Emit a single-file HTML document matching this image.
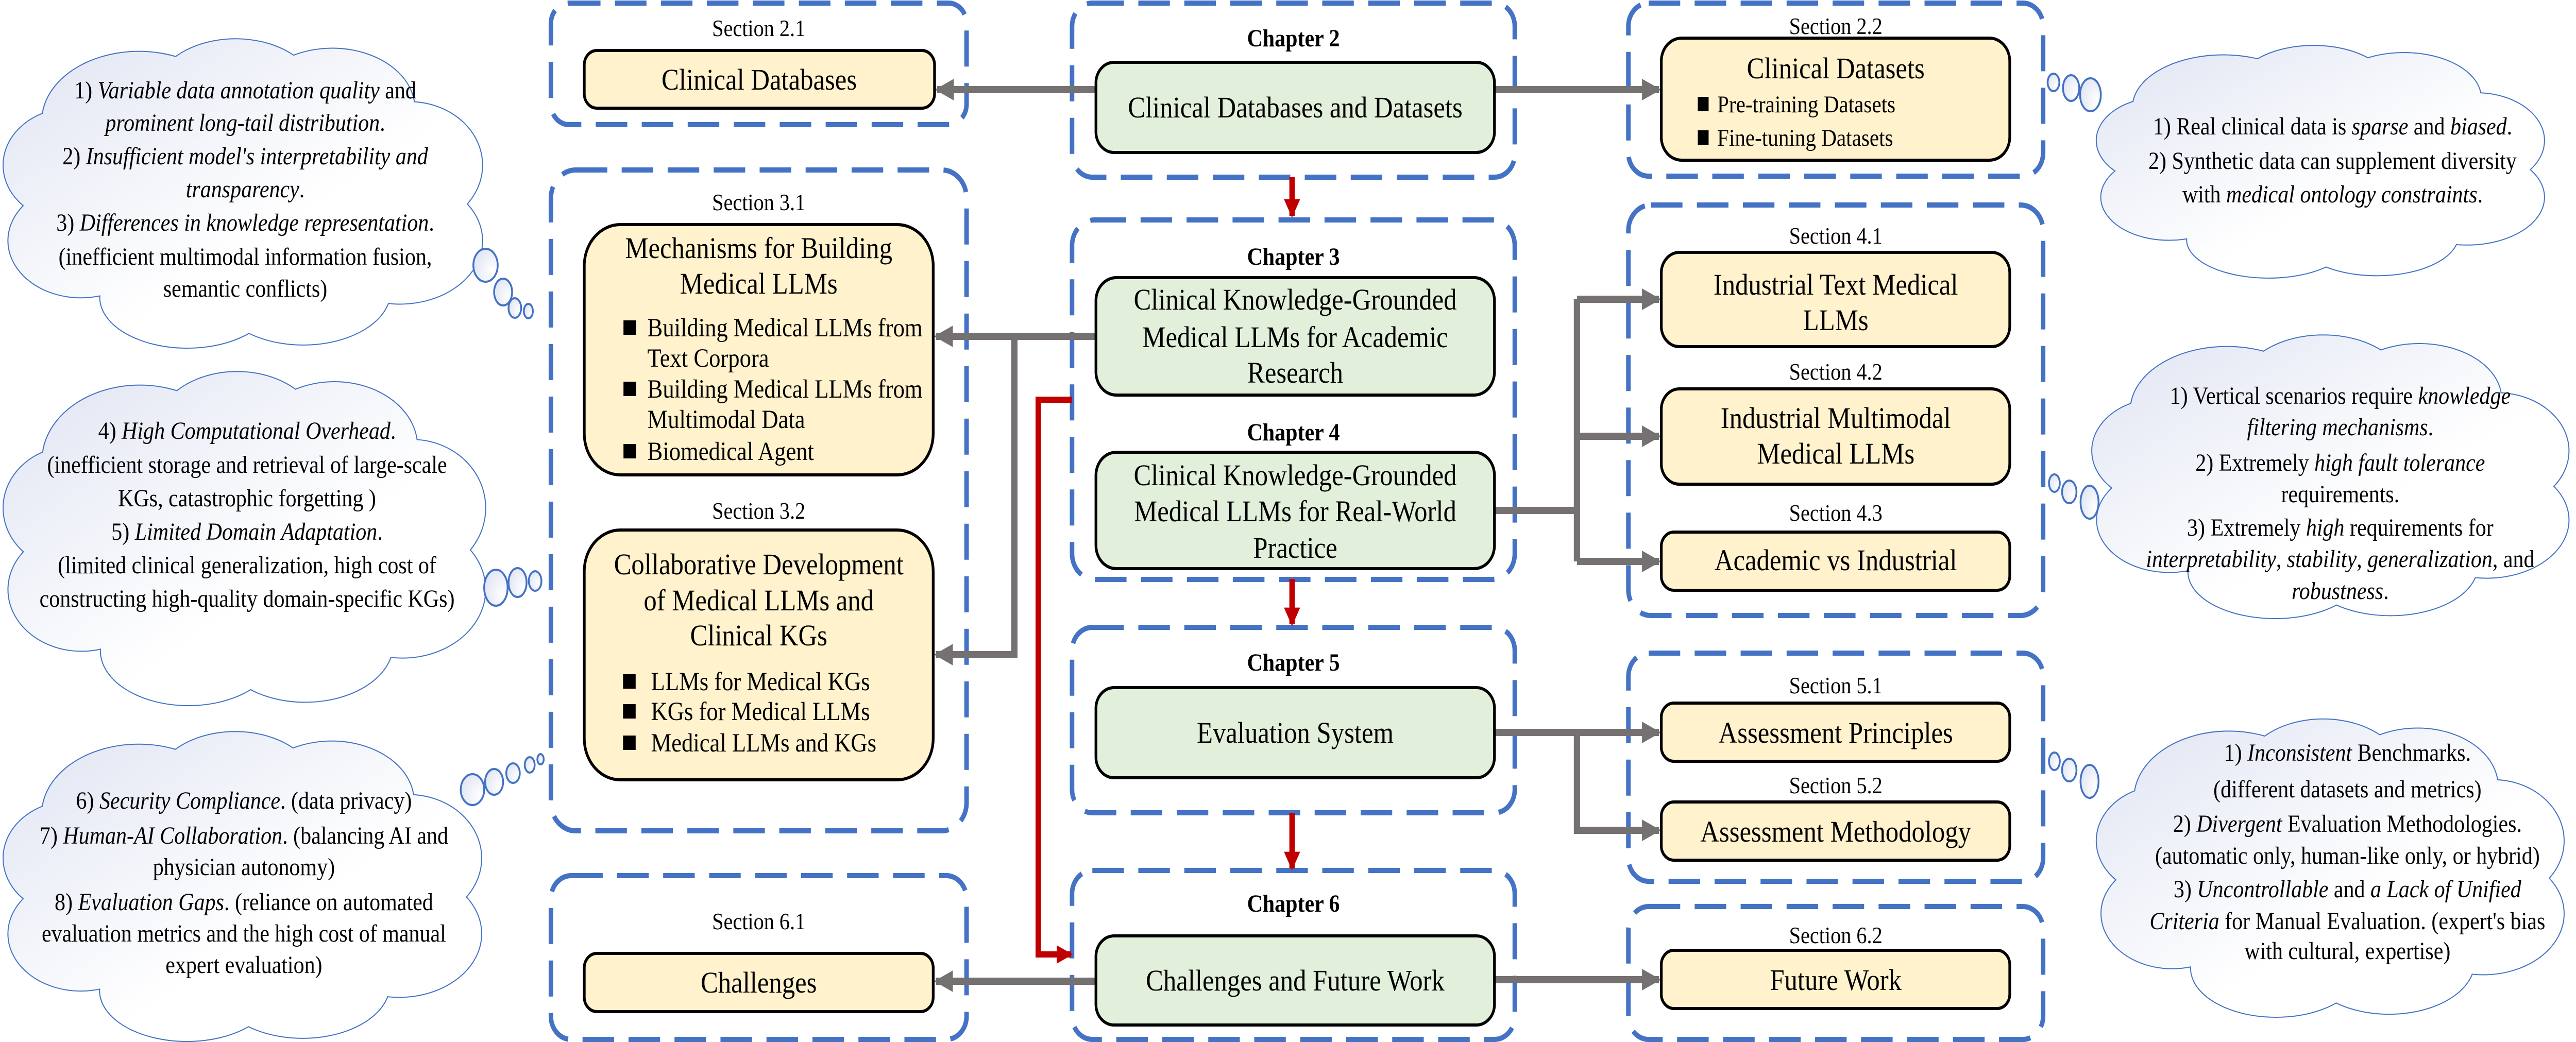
<!DOCTYPE html>
<html><head><meta charset="utf-8"><style>
html,body{margin:0;padding:0;background:#fff;overflow:hidden;width:100%;height:100%;}
svg{display:block;width:100vw;height:100vh;}
text{font-family:"Liberation Serif","Times New Roman",serif;fill:#000;}
.sec{font-size:46px;text-anchor:middle;}
.ch{font-size:48px;font-weight:bold;text-anchor:middle;}
.t{font-size:58px;text-anchor:middle;}
.b{font-size:51px;}
.c{font-size:48px;text-anchor:middle;}
.bs{font-size:47px;}
</style></head><body>
<svg width="5714" height="2023" viewBox="0 0 5714 2023" preserveAspectRatio="none" xmlns="http://www.w3.org/2000/svg">
<defs>
<linearGradient id="cg" gradientUnits="userSpaceOnUse" x1="0" y1="0" x2="100" y2="100">
<stop offset="0" stop-color="#dfe4f2"/><stop offset="0.6" stop-color="#ffffff"/><stop offset="1" stop-color="#ffffff"/>
</linearGradient>
<radialGradient id="bg" cx="0.8" cy="0.7" r="0.9"><stop offset="0" stop-color="#fff"/><stop offset="1" stop-color="#dfe4f2"/></radialGradient>
<symbol id="cloud" viewBox="0 0 100 100" preserveAspectRatio="none" overflow="visible">
<g fill="none" stroke="#4472c4" stroke-width="4">
<ellipse cx="28" cy="28" rx="20" ry="22" vector-effect="non-scaling-stroke"/>
<ellipse cx="48" cy="20" rx="17" ry="18" vector-effect="non-scaling-stroke"/>
<ellipse cx="68" cy="24" rx="17" ry="19" vector-effect="non-scaling-stroke"/>
<ellipse cx="84" cy="42" rx="15" ry="20" vector-effect="non-scaling-stroke"/>
<ellipse cx="82" cy="66" rx="17" ry="20" vector-effect="non-scaling-stroke"/>
<ellipse cx="62" cy="82" rx="18" ry="17" vector-effect="non-scaling-stroke"/>
<ellipse cx="38" cy="84" rx="18" ry="16" vector-effect="non-scaling-stroke"/>
<ellipse cx="16" cy="66" rx="15" ry="18" vector-effect="non-scaling-stroke"/>
<ellipse cx="14" cy="42" rx="14" ry="18" vector-effect="non-scaling-stroke"/>
</g>
<g fill="url(#cg)" stroke="none">
<ellipse cx="28" cy="28" rx="20" ry="22"/>
<ellipse cx="48" cy="20" rx="17" ry="18"/>
<ellipse cx="68" cy="24" rx="17" ry="19"/>
<ellipse cx="84" cy="42" rx="15" ry="20"/>
<ellipse cx="82" cy="66" rx="17" ry="20"/>
<ellipse cx="62" cy="82" rx="18" ry="17"/>
<ellipse cx="38" cy="84" rx="18" ry="16"/>
<ellipse cx="16" cy="66" rx="15" ry="18"/>
<ellipse cx="14" cy="42" rx="14" ry="18"/>
<ellipse cx="50" cy="52" rx="38" ry="34"/>
</g>
</symbol>
<marker id="ga" viewBox="0 0 10 10" refX="9" refY="5" markerWidth="3" markerHeight="3" orient="auto" markerUnits="strokeWidth"><path d="M0,0 L10,5 L0,10 z" fill="#767171"/></marker>
<marker id="ra" viewBox="0 0 10 10" refX="9" refY="5" markerWidth="3" markerHeight="3.2" orient="auto" markerUnits="strokeWidth"><path d="M0,0 L10,5 L0,10 z" fill="#c00000"/></marker>
</defs>

<!-- clouds -->
<use href="#cloud" x="8" y="64" width="1072" height="611"/>
<use href="#cloud" x="8" y="709" width="1079" height="660"/>
<use href="#cloud" x="8" y="1409" width="1070" height="612"/>
<use href="#cloud" x="4651" y="80" width="1002" height="459"/>
<use href="#cloud" x="4641" y="640" width="1067" height="560"/>
<use href="#cloud" x="4651" y="1385" width="1046" height="589"/>
<g fill="url(#bg)" stroke="#4472c4" stroke-width="4">
<ellipse cx="1077" cy="515" rx="27" ry="32"/><ellipse cx="1116" cy="567" rx="20" ry="26"/><ellipse cx="1142" cy="598" rx="14" ry="19"/><ellipse cx="1172" cy="604" rx="10" ry="14"/>
<ellipse cx="1100" cy="1141" rx="26" ry="35"/><ellipse cx="1148" cy="1131" rx="20" ry="28"/><ellipse cx="1187" cy="1128" rx="14" ry="19"/>
<ellipse cx="1048" cy="1533" rx="26" ry="30"/><ellipse cx="1096" cy="1518" rx="20" ry="25"/><ellipse cx="1138" cy="1501" rx="15" ry="19"/><ellipse cx="1175" cy="1485" rx="11" ry="15"/><ellipse cx="1199" cy="1474" rx="7" ry="10"/>
<ellipse cx="4555" cy="160" rx="13" ry="17"/><ellipse cx="4594" cy="171" rx="18" ry="25"/><ellipse cx="4637" cy="184" rx="23" ry="32"/>
<ellipse cx="4557" cy="938" rx="12" ry="17"/><ellipse cx="4590" cy="955" rx="16" ry="22"/><ellipse cx="4635" cy="975" rx="20" ry="32"/>
<ellipse cx="4557" cy="1478" rx="12" ry="17"/><ellipse cx="4590" cy="1495" rx="16" ry="22"/><ellipse cx="4635" cy="1517" rx="20" ry="32"/>
</g>

<!-- cloud texts -->
<text x="544" y="191" class="c">1) <tspan font-style="italic">Variable data annotation quality</tspan> and</text>
<text x="544" y="254" class="c"><tspan font-style="italic">prominent long-tail distribution</tspan>.</text>
<text x="544" y="319" class="c">2)  <tspan font-style="italic">Insufficient model's interpretability and</tspan></text>
<text x="544" y="383" class="c"><tspan font-style="italic">transparency</tspan>.</text>
<text x="544" y="448" class="c">3) <tspan font-style="italic">Differences in knowledge representation</tspan>.</text>
<text x="544" y="514" class="c">(inefficient multimodal information fusion,</text>
<text x="544" y="576" class="c">semantic conflicts)</text>

<text x="548" y="852" class="c">4) <tspan font-style="italic">High Computational Overhead</tspan>.</text>
<text x="548" y="918" class="c">(inefficient storage and retrieval of large-scale</text>
<text x="548" y="983" class="c">KGs, catastrophic forgetting )</text>
<text x="548" y="1048" class="c">5) <tspan font-style="italic">Limited Domain Adaptation</tspan>.</text>
<text x="548" y="1113" class="c">(limited clinical generalization, high cost of</text>
<text x="548" y="1178" class="c">constructing high-quality domain-specific KGs)</text>

<text x="541" y="1570" class="c">6) <tspan font-style="italic">Security Compliance</tspan>. (data privacy)</text>
<text x="541" y="1638" class="c">7) <tspan font-style="italic">Human-AI Collaboration</tspan>. (balancing AI and</text>
<text x="541" y="1699" class="c">physician autonomy)</text>
<text x="541" y="1767" class="c">8) <tspan font-style="italic">Evaluation Gaps</tspan>. (reliance on automated</text>
<text x="541" y="1828" class="c">evaluation metrics and the high cost of manual</text>
<text x="541" y="1889" class="c">expert evaluation)</text>

<text x="5174" y="261" class="c">1) Real clinical data is <tspan font-style="italic">sparse</tspan> and <tspan font-style="italic">biased</tspan>.</text>
<text x="5174" y="328" class="c">2) Synthetic data can supplement diversity</text>
<text x="5174" y="393" class="c">with <tspan font-style="italic">medical ontology constraints</tspan>.</text>

<text x="5191" y="784" class="c">1) Vertical scenarios require <tspan font-style="italic">knowledge</tspan></text>
<text x="5191" y="845" class="c"><tspan font-style="italic">filtering mechanisms</tspan>.</text>
<text x="5191" y="914" class="c">2) Extremely <tspan font-style="italic">high fault tolerance</tspan></text>
<text x="5191" y="975" class="c">requirements.</text>
<text x="5191" y="1040" class="c">3) Extremely <tspan font-style="italic">high</tspan> requirements for</text>
<text x="5191" y="1101" class="c"><tspan font-style="italic">interpretability</tspan>, <tspan font-style="italic">stability</tspan>, <tspan font-style="italic">generalization</tspan>, and</text>
<text x="5191" y="1163" class="c"><tspan font-style="italic">robustness</tspan>.</text>

<text x="5207" y="1477" class="c">1) <tspan font-style="italic">Inconsistent</tspan> Benchmarks.</text>
<text x="5207" y="1548" class="c">(different datasets and metrics)</text>
<text x="5207" y="1615" class="c">2) <tspan font-style="italic">Divergent</tspan> Evaluation Methodologies.</text>
<text x="5207" y="1677" class="c">(automatic only, human-like only, or hybrid)</text>
<text x="5207" y="1742" class="c">3) <tspan font-style="italic">Uncontrollable</tspan> and <tspan font-style="italic">a Lack of Unified</tspan></text>
<text x="5207" y="1804" class="c"><tspan font-style="italic">Criteria</tspan> for Manual Evaluation. (expert's bias</text>
<text x="5207" y="1862" class="c">with cultural, expertise)</text>

<!-- dashed containers -->
<g fill="none" stroke="#4472c4" stroke-width="10" stroke-dasharray="70 32">
<rect x="1222" y="6" width="922" height="236" rx="40"/>
<rect x="1222" y="330" width="922" height="1283" rx="55"/>
<rect x="1222" y="1700" width="922" height="318" rx="45"/>
<rect x="2378" y="6" width="982" height="338" rx="45"/>
<rect x="2378" y="427" width="982" height="698" rx="50"/>
<rect x="2378" y="1218" width="982" height="360" rx="45"/>
<rect x="2378" y="1690" width="982" height="328" rx="45"/>
<rect x="3612" y="6" width="920" height="336" rx="45"/>
<rect x="3612" y="398" width="920" height="797" rx="50"/>
<rect x="3612" y="1268" width="920" height="443" rx="45"/>
<rect x="3612" y="1760" width="920" height="258" rx="45"/>
</g>

<!-- connectors -->
<g fill="none" stroke="#767171" stroke-width="14">
<line x1="2431" y1="174" x2="2078" y2="174" marker-end="url(#ga)"/>
<line x1="3315" y1="174" x2="3680" y2="174" marker-end="url(#ga)"/>
<line x1="2431" y1="653" x2="2076" y2="653" marker-end="url(#ga)"/>
<polyline points="2250,653 2250,1271 2076,1271" marker-end="url(#ga)"/>
<line x1="3315" y1="991" x2="3498" y2="991"/>
<polyline points="3498,581 3498,1090"/>
<line x1="3498" y1="581" x2="3680" y2="581" marker-end="url(#ga)"/>
<line x1="3498" y1="847" x2="3680" y2="847" marker-end="url(#ga)"/>
<line x1="3498" y1="1090" x2="3680" y2="1090" marker-end="url(#ga)"/>
<line x1="3315" y1="1422" x2="3680" y2="1422" marker-end="url(#ga)"/>
<polyline points="3498,1422 3498,1612 3680,1612" marker-end="url(#ga)"/>
<line x1="3315" y1="1902" x2="3680" y2="1902" marker-end="url(#ga)"/>
<line x1="2431" y1="1905" x2="2076" y2="1905" marker-end="url(#ga)"/>
</g>
<g fill="none" stroke="#c00000" stroke-width="12">
<line x1="2866" y1="344" x2="2866" y2="419" marker-end="url(#ra)"/>
<line x1="2866" y1="1124" x2="2866" y2="1212" marker-end="url(#ra)"/>
<line x1="2866" y1="1578" x2="2866" y2="1686" marker-end="url(#ra)"/>
<polyline points="2378,776 2303,776 2303,1853 2376,1853" marker-end="url(#ra)"/>
</g>

<!-- boxes -->
<g stroke="#000" stroke-width="6">
<rect x="1296" y="98" width="777" height="112" rx="28" fill="#fff2cc"/>
<rect x="1296" y="436" width="774" height="486" rx="80" fill="#fff2cc"/>
<rect x="1296" y="1029" width="774" height="485" rx="80" fill="#fff2cc"/>
<rect x="1296" y="1851" width="774" height="113" rx="28" fill="#fff2cc"/>
<rect x="2431" y="121" width="884" height="175" rx="40" fill="#e2efda"/>
<rect x="2431" y="539" width="884" height="228" rx="45" fill="#e2efda"/>
<rect x="2431" y="878" width="884" height="226" rx="45" fill="#e2efda"/>
<rect x="2431" y="1335" width="884" height="175" rx="40" fill="#e2efda"/>
<rect x="2431" y="1817" width="884" height="173" rx="40" fill="#e2efda"/>
<rect x="3685" y="74" width="773" height="237" rx="45" fill="#fff2cc"/>
<rect x="3685" y="490" width="773" height="183" rx="40" fill="#fff2cc"/>
<rect x="3685" y="755" width="773" height="185" rx="40" fill="#fff2cc"/>
<rect x="3685" y="1033" width="773" height="113" rx="28" fill="#fff2cc"/>
<rect x="3685" y="1365" width="773" height="113" rx="28" fill="#fff2cc"/>
<rect x="3685" y="1557" width="773" height="113" rx="28" fill="#fff2cc"/>
<rect x="3685" y="1845" width="773" height="113" rx="28" fill="#fff2cc"/>
</g>

<!-- labels -->
<text x="1683" y="70" class="sec">Section 2.1</text>
<text x="1683" y="408" class="sec">Section 3.1</text>
<text x="1683" y="1007" class="sec">Section 3.2</text>
<text x="1683" y="1804" class="sec">Section 6.1</text>
<text x="4072" y="66" class="sec">Section 2.2</text>
<text x="4072" y="473" class="sec">Section 4.1</text>
<text x="4072" y="737" class="sec">Section 4.2</text>
<text x="4072" y="1011" class="sec">Section 4.3</text>
<text x="4072" y="1346" class="sec">Section 5.1</text>
<text x="4072" y="1540" class="sec">Section 5.2</text>
<text x="4072" y="1831" class="sec">Section 6.2</text>
<text x="2869" y="90" class="ch">Chapter 2</text>
<text x="2869" y="514" class="ch">Chapter 3</text>
<text x="2869" y="855" class="ch">Chapter 4</text>
<text x="2869" y="1302" class="ch">Chapter 5</text>
<text x="2869" y="1770" class="ch">Chapter 6</text>

<text x="1684" y="174" class="t">Clinical Databases</text>
<text x="1683" y="501" class="t">Mechanisms for Building</text>
<text x="1683" y="570" class="t">Medical LLMs</text>
<rect x="1383" y="622" width="28" height="28"/><text x="1436" y="653" class="b">Building Medical LLMs from</text>
<text x="1436" y="712" class="b">Text Corpora</text>
<rect x="1383" y="741" width="28" height="28"/><text x="1436" y="772" class="b">Building Medical LLMs from</text>
<text x="1436" y="831" class="b">Multimodal Data</text>
<rect x="1383" y="862" width="28" height="28"/><text x="1436" y="893" class="b">Biomedical Agent</text>
<text x="1683" y="1115" class="t">Collaborative Development</text>
<text x="1683" y="1185" class="t">of Medical LLMs and</text>
<text x="1683" y="1253" class="t">Clinical KGs</text>
<rect x="1382" y="1309" width="28" height="28"/><text x="1444" y="1340" class="b">LLMs for Medical KGs</text>
<rect x="1382" y="1367" width="28" height="28"/><text x="1444" y="1398" class="b">KGs for Medical LLMs</text>
<rect x="1382" y="1428" width="28" height="28"/><text x="1444" y="1459" class="b">Medical LLMs and KGs</text>
<text x="1683" y="1927" class="t">Challenges</text>

<text x="2873" y="228" class="t">Clinical Databases and Datasets</text>
<text x="2873" y="601" class="t">Clinical Knowledge-Grounded</text>
<text x="2873" y="674" class="t">Medical LLMs for Academic</text>
<text x="2873" y="743" class="t">Research</text>
<text x="2873" y="942" class="t">Clinical Knowledge-Grounded</text>
<text x="2873" y="1012" class="t">Medical LLMs for Real-World</text>
<text x="2873" y="1083" class="t">Practice</text>
<text x="2873" y="1442" class="t">Evaluation System</text>
<text x="2873" y="1923" class="t">Challenges and Future Work</text>

<text x="4072" y="152" class="t">Clinical Datasets</text>
<rect x="3766" y="188" width="24" height="28"/><text x="3809" y="218" class="bs">Pre-training Datasets</text>
<rect x="3766" y="253" width="24" height="28"/><text x="3809" y="283" class="bs">Fine-tuning Datasets</text>
<text x="4072" y="572" class="t">Industrial Text Medical</text>
<text x="4072" y="641" class="t">LLMs</text>
<text x="4072" y="831" class="t">Industrial Multimodal</text>
<text x="4072" y="900" class="t">Medical LLMs</text>
<text x="4072" y="1107" class="t">Academic vs Industrial</text>
<text x="4072" y="1442" class="t">Assessment Principles</text>
<text x="4072" y="1634" class="t">Assessment Methodology</text>
<text x="4072" y="1922" class="t">Future Work</text>
</svg>
</body></html>
